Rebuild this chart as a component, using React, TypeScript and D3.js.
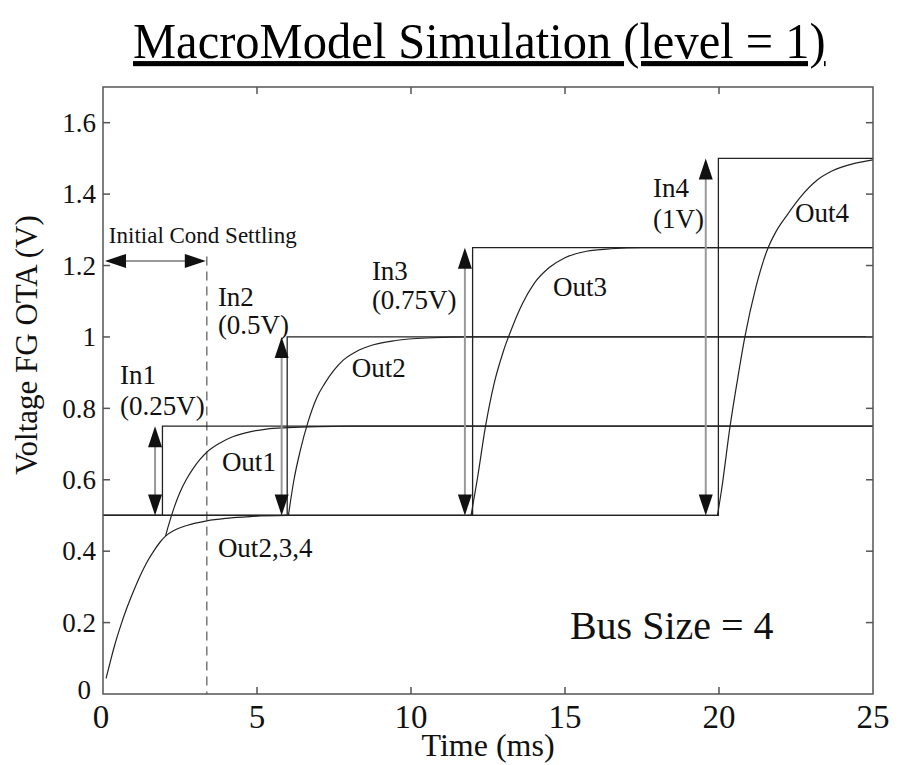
import * as d3 from 'd3';

const W = 901;
const H = 765;
const MARGIN = { top: 87, right: 28, bottom: 71, left: 103 };
const FONT = '"Liberation Serif", "Times New Roman", serif';

// axis ticks
const X_TICKS = [0, 5, 10, 15, 20, 25];
const Y_TICKS = [0, 0.2, 0.4, 0.6, 0.8, 1, 1.2, 1.4, 1.6];

type Pt = [number, number];

// input steps (time ms, volts)
const in1: Pt[] = [[0, 0.5], [1.93, 0.5], [1.93, 0.75], [25, 0.75]];
const in2: Pt[] = [[0, 0.5], [5.98, 0.5], [5.98, 1.0], [25, 1.0]];
const in3: Pt[] = [[0, 0.5], [12.0, 0.5], [12.0, 1.25], [25, 1.25]];
const in4: Pt[] = [[0, 0.5], [19.98, 0.5], [19.98, 1.5], [25, 1.5]];

// initial settling shared by every output
const settle: Pt[] = [
  [0.1, 0.044], [0.25, 0.095], [0.39, 0.14], [0.57, 0.19], [0.77, 0.24], [1.0, 0.29],
  [1.2, 0.33], [1.4, 0.365], [1.63, 0.398], [1.85, 0.425], [2.03, 0.442], [2.35, 0.46],
  [2.72, 0.472], [3.37, 0.485], [4.0, 0.492], [4.77, 0.497], [6.0, 0.5],
];
const hold: Pt[] = [[6.0, 0.5], [19.95, 0.5]];
const out1: Pt[] = [
  [2.03, 0.442], [2.12, 0.47], [2.3, 0.52], [2.5, 0.565], [2.7, 0.6], [2.93, 0.632],
  [3.15, 0.657], [3.37, 0.677], [3.8, 0.703], [4.23, 0.721], [4.8, 0.735], [5.31, 0.742],
  [6.0, 0.746], [7.0, 0.749], [8.0, 0.75], [25, 0.75],
];
const out2: Pt[] = [
  [6.02, 0.5], [6.2, 0.6], [6.4, 0.68], [6.65, 0.76], [6.94, 0.83], [7.2, 0.87],
  [7.48, 0.905], [7.8, 0.935], [8.2, 0.958], [8.78, 0.978], [9.5, 0.99], [10.5, 0.997],
  [12.0, 1.0], [25, 1.0],
];
const out3: Pt[] = [
  [11.95, 0.5], [12.15, 0.6], [12.42, 0.75], [12.7, 0.87], [13.0, 0.96], [13.3, 1.03],
  [13.6, 1.09], [14.0, 1.15], [14.5, 1.195], [15.0, 1.222], [15.7, 1.24], [16.5, 1.247],
  [17.5, 1.25], [25, 1.25],
];
const out4: Pt[] = [
  [19.95, 0.5], [20.08, 0.57], [20.36, 0.75], [20.6, 0.88], [20.84, 1.0], [21.2, 1.14],
  [21.55, 1.24], [21.85, 1.295], [22.2, 1.34], [22.63, 1.39], [23.2, 1.44], [23.7, 1.466],
  [24.4, 1.486], [25, 1.496],
];

// input amplitude arrows
const arrowT = [1.69, 5.8, 11.75, 19.57];
const arrowHi = [0.75, 1.0, 1.25, 1.5];
const ARROW_LO = 0.5;

// initial condition settling marker
const SETTLE_END = 3.37;
const SETTLE_V = 1.213;

export default function App() {
  const x = d3.scaleLinear().domain([0, 25]).range([MARGIN.left, W - MARGIN.right]);
  const y = d3.scaleLinear().domain([0, 1.7]).range([H - MARGIN.bottom, MARGIN.top]);

  const stepLine = d3.line<Pt>().x((d) => x(d[0])).y((d) => y(d[1]));
  const smooth = d3
    .line<Pt>()
    .x((d) => x(d[0]))
    .y((d) => y(d[1]))
    .curve(d3.curveMonotoneX);

  const x0 = x(0), x1 = x(25), y0 = y(0), y1 = y(1.7);
  const TK = 7;
  const HL = 21; // arrow head length
  const HW = 7;

  const headUp = (cx: number, tip: number) =>
    `M${cx},${tip}L${cx - HW},${tip + HL}L${cx + HW},${tip + HL}Z`;
  const headDown = (cx: number, tip: number) =>
    `M${cx},${tip}L${cx - HW},${tip - HL}L${cx + HW},${tip - HL}Z`;

  const label = (t: number, v: number, s: string, size = 27) => (
    <text x={x(t)} y={y(v)} fontSize={size} fill="#111">
      {s}
    </text>
  );

  return (
    <svg
      width={W}
      height={H}
      style={{ position: 'absolute', left: 0, top: 0, background: '#fff', fontFamily: FONT }}
    >
      <rect width={W} height={H} fill="#fff" />

      {/* title */}
      <text
        transform="translate(133,58) scale(1,1.05)"
        fontSize={48.5}
        fill="#000"
        style={{ textDecoration: 'underline' }}
      >
        MacroModel Simulation (level = 1)
      </text>

      {/* dashed settling line */}
      <line
        x1={x(SETTLE_END)}
        x2={x(SETTLE_END)}
        y1={y(1.225)}
        y2={y0}
        stroke="#777"
        strokeWidth={1.5}
        strokeDasharray="9,6"
      />

      {/* inputs */}
      {[in1, in2, in3, in4].map((d, i) => (
        <path key={'in' + i} d={stepLine(d) || ''} fill="none" stroke="#222" strokeWidth={1.3} />
      ))}

      {/* outputs */}
      {[settle, out1, out2, out3, out4].map((d, i) => (
        <path key={'out' + i} d={smooth(d) || ''} fill="none" stroke="#222" strokeWidth={1.2} />
      ))}
      <path d={stepLine(hold) || ''} fill="none" stroke="#222" strokeWidth={1.2} />

      {/* amplitude arrows */}
      {arrowT.map((t, i) => {
        const cx = x(t);
        const top = y(arrowHi[i]);
        const bot = y(ARROW_LO);
        return (
          <g key={'ar' + i}>
            <line x1={cx} x2={cx} y1={top + 4} y2={bot - 4} stroke="#999" strokeWidth={2} />
            <path d={headUp(cx, top)} fill="#111" />
            <path d={headDown(cx, bot)} fill="#111" />
          </g>
        );
      })}

      {/* initial cond settling arrow */}
      <g>
        <line
          x1={x(0) + 4}
          x2={x(SETTLE_END) - 4}
          y1={y(SETTLE_V)}
          y2={y(SETTLE_V)}
          stroke="#999"
          strokeWidth={2}
        />
        <path
          d={`M${x(0) + 2},${y(SETTLE_V)}L${x(0) + 2 + HL},${y(SETTLE_V) - HW}L${x(0) + 2 + HL},${y(SETTLE_V) + HW}Z`}
          fill="#111"
        />
        <path
          d={`M${x(SETTLE_END) - 1},${y(SETTLE_V)}L${x(SETTLE_END) - 1 - HL},${y(SETTLE_V) - HW}L${x(SETTLE_END) - 1 - HL},${y(SETTLE_V) + HW}Z`}
          fill="#111"
        />
      </g>

      {/* frame */}
      <rect x={x0} y={y1} width={x1 - x0} height={y0 - y1} fill="none" stroke="#555" strokeWidth={1.5} />
      {X_TICKS.slice(1, -1).map((t) => (
        <g key={'xt' + t} stroke="#555" strokeWidth={1.5}>
          <line x1={x(t)} x2={x(t)} y1={y0} y2={y0 - TK} />
          <line x1={x(t)} x2={x(t)} y1={y1} y2={y1 + TK} />
        </g>
      ))}
      {Y_TICKS.slice(1).map((v) => (
        <g key={'yt' + v} stroke="#555" strokeWidth={1.5}>
          <line x1={x0} x2={x0 + TK} y1={y(v)} y2={y(v)} />
          <line x1={x1} x2={x1 - TK} y1={y(v)} y2={y(v)} />
        </g>
      ))}

      {/* tick labels */}
      {X_TICKS.map((t) => (
        <text
          key={'xl' + t}
          x={x(t) - (t === 0 ? 2 : 0)}
          y={728}
          fontSize={33}
          textAnchor="middle"
          fill="#111"
        >
          {t}
        </text>
      ))}
      {Y_TICKS.map((v) => (
        <text
          key={'yl' + v}
          x={v === 0 ? 91 : 96}
          y={y(v)}
          dy={v === 0 ? '0.2em' : '0.34em'}
          fontSize={27}
          textAnchor="end"
          fill="#111"
        >
          {d3.format('~g')(v)}
        </text>
      ))}

      {/* axis labels */}
      <text x={(x0 + x1) / 2} y={756} fontSize={32} textAnchor="middle" fill="#111">
        Time (ms)
      </text>
      <text
        transform={`translate(37,345) rotate(-90)`}
        fontSize={31}
        textAnchor="middle"
        fill="#111"
      >
        Voltage FG OTA (V)
      </text>

      {/* annotations */}
      {label(0.19, 1.263, 'Initial Cond Settling', 23)}
      {label(0.55, 0.868, 'In1')}
      {label(0.55, 0.781, '(0.25V)')}
      {label(3.73, 1.087, 'In2')}
      {label(3.73, 1.008, '(0.5V)')}
      {label(8.73, 1.159, 'In3')}
      {label(8.73, 1.078, '(0.75V)')}
      {label(17.86, 1.392, 'In4')}
      {label(17.86, 1.305, '(1V)')}
      {label(3.86, 0.625, 'Out1')}
      {label(3.73, 0.384, 'Out2,3,4')}
      {label(8.08, 0.888, 'Out2')}
      {label(14.61, 1.115, 'Out3')}
      {label(22.47, 1.322, 'Out4')}
      {label(15.16, 0.154, 'Bus Size = 4', 40)}
    </svg>
  );
}
